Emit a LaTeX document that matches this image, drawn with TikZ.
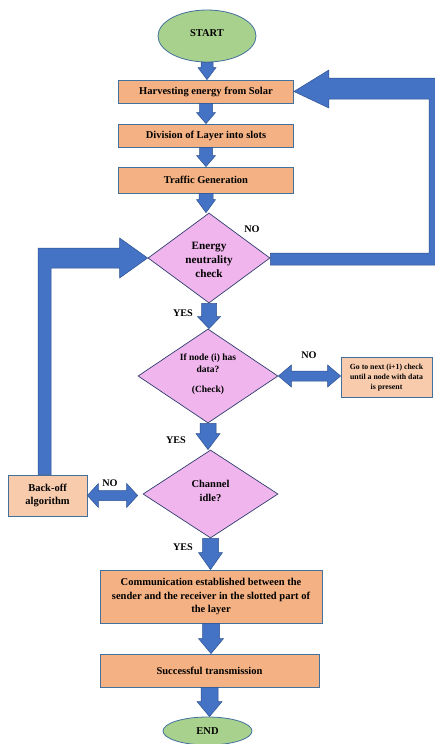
\documentclass[tikz,border=0pt]{standalone}
\usepackage{fontspec}
\setmainfont{Liberation Serif}
\usetikzlibrary{shapes.geometric,calc}
\definecolor{boxor}{HTML}{F4B183}
\definecolor{boxpe}{HTML}{F8CBAD}
\definecolor{diapk}{HTML}{EFB5EC}
\definecolor{ellgr}{HTML}{A9D18E}
\definecolor{arrbl}{HTML}{4472C4}
\definecolor{arred}{HTML}{2F528F}
\definecolor{bordbl}{HTML}{41719C}
\definecolor{diabd}{HTML}{2F3E6E}
\tikzset{
  procbox/.style={draw=bordbl, line width=0.8pt, fill=boxor, inner sep=0pt},
  sidebox/.style={draw=bordbl, line width=0.8pt, fill=boxpe, inner sep=0pt},
  decide/.style={diamond, draw=diabd, line width=0.7pt, fill=diapk, inner sep=0pt, aspect=1.35},
  term/.style={ellipse, draw=bordbl, line width=0.8pt, fill=ellgr, inner sep=0pt},
  txt/.style={font=\bfseries\fontsize{10.5}{13.5}\selectfont, align=center, inner sep=0pt},
  lbl/.style={font=\bfseries\fontsize{10.2}{12}\selectfont, inner sep=0pt},
  barrow/.style={fill=arrbl, draw=arred, line width=0.5pt, line join=miter}
}
\newcommand\myvarrow[5]{%
  \path[barrow] let \p1=(#1), \p2=(#2) in
  ({\x1-#3pt},\y1) -- ({\x1+#3pt},\y1) -- ({\x1+#3pt},{\y2+#5pt}) -- ({\x1+#4pt},{\y2+#5pt})
  -- (\x1,\y2) -- ({\x1-#4pt},{\y2+#5pt}) -- ({\x1-#3pt},{\y2+#5pt}) -- cycle;}
\newcommand\myhdarrow[5]{%
  \path[barrow] let \p1=(#1), \p2=(#2) in
  (\p1) -- ({\x1+#5pt},{\y1+#4pt}) -- ({\x1+#5pt},{\y1+#3pt}) -- ({\x2-#5pt},{\y1+#3pt})
  -- ({\x2-#5pt},{\y1+#4pt}) -- (\x2,\y1) -- ({\x2-#5pt},{\y1-#4pt}) -- ({\x2-#5pt},{\y1-#3pt})
  -- ({\x1+#5pt},{\y1-#3pt}) -- ({\x1+#5pt},{\y1-#4pt}) -- cycle;}
\begin{document}
\begin{tikzpicture}[x=1pt,y=-1pt]
\path[use as bounding box, fill=white] (0,0) rectangle (435,744);

% nodes
\node[term, minimum width=98pt, minimum height=52pt] (st) at (207,36) {};
\node[txt] at (207,33) {START};
\node[procbox, minimum width=175pt, minimum height=23pt] (harv) at (206,91.5) {};
\node[txt] at (harv) {Harvesting energy from Solar};
\node[procbox, minimum width=175pt, minimum height=23pt] (div) at (206,135.5) {};
\node[txt] at (div) {Division of Layer into slots};
\node[procbox, minimum width=175pt, minimum height=26pt] (traf) at (206,180) {};
\node[txt] at (traf) {Traffic Generation};
\node[decide, minimum width=122pt, minimum height=90pt] (en) at (209,258) {};
\node[txt, font=\bfseries\fontsize{11.2}{14}\selectfont] at (209,260) {Energy\\neutrality\\check};
\node[decide, minimum width=140pt, minimum height=94pt] (ifn) at (208,376) {};
\node[txt, font=\bfseries\fontsize{9.5}{12}\selectfont] at (208,374) {If node (i) has\\data?\\[8pt](Check)};
\node[sidebox, minimum width=91pt, minimum height=40pt] (go) at (386.5,377.5) {};
\node[txt, font=\bfseries\fontsize{7.8}{10}\selectfont] at (go) {Go to next (i+1) check\\until a node with data\\is present};
\node[decide, minimum width=135pt, minimum height=88pt] (ch) at (210.5,494) {};
\node[txt] at (210.5,491) {Channel\\idle?};
\node[sidebox, minimum width=79pt, minimum height=41pt] (bo) at (47.5,495.5) {};
\node[txt, font=\bfseries\fontsize{10.5}{13}\selectfont] at (bo) {Back-off\\algorithm};
\node[procbox, minimum width=222pt, minimum height=53pt] (comm) at (211,596.5) {};
\node[txt] at (comm) {Communication established between the\\sender and the receiver in the slotted part of\\the layer};
\node[procbox, minimum width=219pt, minimum height=33pt] (succ) at (209.5,670.5) {};
\node[txt] at (succ) {Successful transmission};
\node[term, minimum width=89pt, minimum height=28pt] (end) at (207.5,731) {};
\node[txt] at (end) {END};

% vertical block arrows
\myvarrow{st.south}{harv.north}{6}{9}{12}
\myvarrow{harv.south}{div.north}{6.5}{9.5}{11}
\myvarrow{div.south}{traf.north}{6.5}{9.5}{11}
\myvarrow{traf.south}{en.north}{7}{9.5}{13}
\myvarrow{en.south}{ifn.north}{7.5}{11.5}{12}
\myvarrow{ifn.south}{ch.north}{8}{12}{16}
\myvarrow{ch.south}{comm.north}{8}{12}{17}
\myvarrow{comm.south}{succ.north}{8.5}{12.5}{15}
\myvarrow{succ.south}{end.north}{8.5}{12.5}{15}

% double arrows
\myhdarrow{ifn.east}{go.west}{5}{11}{13}
\coordinate (chw) at ([xshift=-5pt]ch.west);
\myhdarrow{bo.east}{chw}{5}{12}{11}

% big loop: energy check NO -> harvesting
\path[barrow] let \p1=(en.east), \p2=(harv.east) in
  (\x1,{\y1+5pt}) -- (429pt,{\y1+5pt}) -- (429pt,{\y2-7.5pt}) -- ({\x2+35pt},{\y2-7.5pt})
  -- ({\x2+35pt},{\y2-16.5pt}) -- (\p2) -- ({\x2+35pt},{\y2+21.5pt}) -- ({\x2+35pt},{\y2+13.5pt})
  -- (440pt,{\y2+13.5pt}) -- (440pt,{\y1-7pt}) -- (\x1,{\y1-7pt}) -- cycle;

% big loop: back-off -> energy check
\path[barrow] let \p1=(bo.north), \p2=(en.west) in
  (38pt,\y1) -- (38pt,{\y2+10pt}) -- ({\x2-28pt},{\y2+10pt}) -- ({\x2-28pt},{\y2+20pt})
  -- (\p2) -- ({\x2-28pt},{\y2-20pt}) -- ({\x2-28pt},{\y2-10pt}) -- (51pt,{\y2-10pt})
  -- (51pt,\y1) -- cycle;

% labels
\node[lbl] (no1) at (252,229) {NO};
\node[lbl] (yes1) at (183,313) {YES};
\node[lbl] (no2) at (309,355) {NO};
\node[lbl] (yes2) at (176,440) {YES};
\node[lbl] (no3) at (110,483) {NO};
\node[lbl] (yes3) at (183,547) {YES};
\end{tikzpicture}
\end{document}
